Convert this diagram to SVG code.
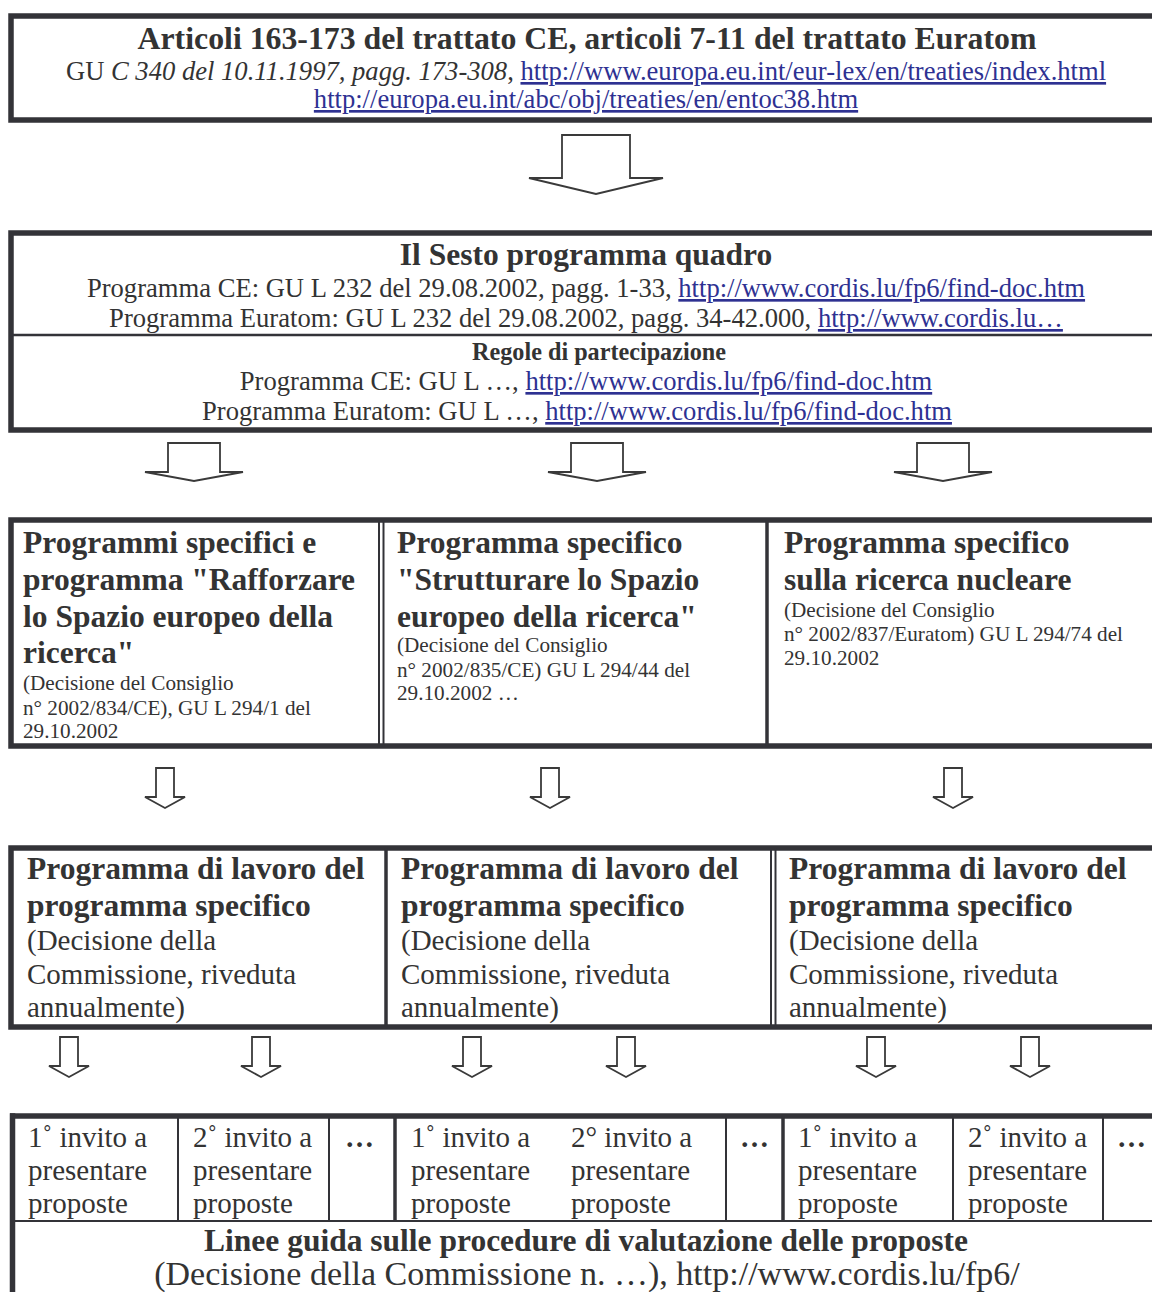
<svg xmlns="http://www.w3.org/2000/svg" xmlns:xlink="http://www.w3.org/1999/xlink" width="1152" height="1292" viewBox="0 0 1152 1292">
<style>
text{font-family:"Liberation Serif","Times New Roman",serif;fill:#333}
.b{font-weight:bold}
.t{font-size:31.8px;font-weight:bold}
.h{font-size:31.5px;font-weight:bold}
.n{font-size:26.6px}
.s{font-size:21.2px}
.m{font-size:29px}
.it{font-style:italic}
.lnk{fill:#2e3192;text-decoration:underline}
.frame{fill:none;stroke:#333338;stroke-width:5.5}
.thin{stroke:#333338;stroke-width:2}
.mid{stroke:#333338;stroke-width:3.5}
.arr{fill:#fff;stroke:#3a3a3a;stroke-width:1.8;stroke-linejoin:miter}
</style>
<defs>
<path id="bigArrow" class="arr" d="M-34,0 H34 V43 H67 L0,59 L-67,43 H-34 Z"/>
<path id="medArrow" class="arr" d="M-26,0 H26 V29 H49 L0,38 L-49,29 H-26 Z"/>
<path id="smlArrow" class="arr" d="M-9,0 H9 V29 H20 L0,40 L-20,29 H-9 Z"/>
</defs>
<rect width="1152" height="1292" fill="#fff"/>

<g id="node-treaty">
<rect class="frame" x="11" y="16" width="1200" height="104"/>
<text class="t" x="587" y="49" text-anchor="middle">Articoli 163-173 del trattato CE, articoli 7-11 del trattato Euratom</text>
<text class="n" x="586" y="80" text-anchor="middle">GU <tspan class="it">C 340 del 10.11.1997, pagg. 173-308</tspan>, <tspan class="lnk">http://www.europa.eu.int/eur-lex/en/treaties/index.html</tspan></text>
<text class="n" x="586" y="108" text-anchor="middle"><tspan class="lnk">http://europa.eu.int/abc/obj/treaties/en/entoc38.htm</tspan></text>
</g>

<g id="node-fp6">
<rect class="frame" x="11" y="233" width="1200" height="197"/>
<line class="thin" x1="11" y1="335" x2="1152" y2="335" style="stroke-width:2.5"/>
<text class="h" x="586" y="265" text-anchor="middle">Il Sesto programma quadro</text>
<text class="n" x="586" y="297" text-anchor="middle">Programma CE: GU L 232 del 29.08.2002, pagg. 1-33, <tspan class="lnk">http://www.cordis.lu/fp6/find-doc.htm</tspan></text>
<text class="n" x="586" y="327" text-anchor="middle">Programma Euratom: GU L 232 del 29.08.2002, pagg. 34-42.000, <tspan class="lnk">http://www.cordis.lu…</tspan></text>
<text class="b" x="599" y="360" text-anchor="middle" style="font-size:24.2px">Regole di partecipazione</text>
<text class="n" x="586" y="390" text-anchor="middle">Programma CE: GU L …, <tspan class="lnk">http://www.cordis.lu/fp6/find-doc.htm</tspan></text>
<text class="n" x="577" y="420" text-anchor="middle">Programma Euratom: GU L …, <tspan class="lnk">http://www.cordis.lu/fp6/find-doc.htm</tspan></text>
</g>

<g id="frame-specific">
<rect class="frame" x="11" y="520" width="1200" height="226"/>
<line class="thin" x1="379" y1="520" x2="379" y2="746"/>
<line class="thin" x1="383.5" y1="520" x2="383.5" y2="746"/>
<line class="mid" x1="767" y1="520" x2="767" y2="746"/>
</g>
<g id="node-sp-rafforzare">
<text class="h" x="23" y="553">Programmi specifici e</text>
<text class="h" x="23" y="590">programma "Rafforzare</text>
<text class="h" x="23" y="627">lo Spazio europeo della</text>
<text class="h" x="23" y="663">ricerca"</text>
<text class="s" x="23" y="690">(Decisione del Consiglio</text>
<text class="s" x="23" y="715">n° 2002/834/CE), GU L 294/1 del</text>
<text class="s" x="23" y="738">29.10.2002</text>
</g>
<g id="node-sp-strutturare">
<text class="h" x="397" y="553">Programma specifico</text>
<text class="h" x="397" y="590">"Strutturare lo Spazio</text>
<text class="h" x="397" y="627">europeo della ricerca"</text>
<text class="s" x="397" y="652">(Decisione del Consiglio</text>
<text class="s" x="397" y="677">n° 2002/835/CE) GU L 294/44 del</text>
<text class="s" x="397" y="700">29.10.2002 …</text>
</g>
<g id="node-sp-nucleare">
<text class="h" x="784" y="553">Programma specifico</text>
<text class="h" x="784" y="590">sulla ricerca nucleare</text>
<text class="s" x="784" y="617">(Decisione del Consiglio</text>
<text class="s" x="784" y="641">n° 2002/837/Euratom) GU L 294/74 del</text>
<text class="s" x="784" y="665">29.10.2002</text>
</g>

<g id="frame-workprog">
<rect class="frame" x="11" y="848" width="1200" height="179"/>
<line class="mid" x1="386" y1="848" x2="386" y2="1027"/>
<line class="thin" x1="771" y1="848" x2="771" y2="1027"/>
<line class="thin" x1="775.5" y1="848" x2="775.5" y2="1027"/>
</g>
<g id="node-wp-1">
<text class="h" x="27" y="879">Programma di lavoro del</text>
<text class="h" x="27" y="916">programma specifico</text>
<text class="m" x="27" y="950">(Decisione della</text>
<text class="m" x="27" y="984">Commissione, riveduta</text>
<text class="m" x="27" y="1017">annualmente)</text>
</g>
<g id="node-wp-2">
<text class="h" x="401" y="879">Programma di lavoro del</text>
<text class="h" x="401" y="916">programma specifico</text>
<text class="m" x="401" y="950">(Decisione della</text>
<text class="m" x="401" y="984">Commissione, riveduta</text>
<text class="m" x="401" y="1017">annualmente)</text>
</g>
<g id="node-wp-3">
<text class="h" x="789" y="879">Programma di lavoro del</text>
<text class="h" x="789" y="916">programma specifico</text>
<text class="m" x="789" y="950">(Decisione della</text>
<text class="m" x="789" y="984">Commissione, riveduta</text>
<text class="m" x="789" y="1017">annualmente)</text>
</g>

<g id="frame-calls">
<line class="frame" x1="12.5" y1="1113.3" x2="12.5" y2="1300"/>
<line class="frame" x1="10" y1="1116" x2="1160" y2="1116"/>
<line class="thin" x1="12" y1="1221" x2="1152" y2="1221"/>
<line class="thin" x1="178" y1="1116" x2="178" y2="1221"/>
<line class="thin" x1="329" y1="1116" x2="329" y2="1221"/>
<line class="mid" x1="395" y1="1116" x2="395" y2="1221"/>
<line class="thin" x1="726" y1="1116" x2="726" y2="1221"/>
<line class="mid" x1="783" y1="1116" x2="783" y2="1221"/>
<line class="thin" x1="953" y1="1116" x2="953" y2="1221"/>
<line class="thin" x1="1103" y1="1116" x2="1103" y2="1221"/>
</g>
<g id="node-call-1a">
<text class="m" x="28" y="1147">1˚ invito a</text>
<text class="m" x="28" y="1180">presentare</text>
<text class="m" x="28" y="1213">proposte</text>
</g>
<g id="node-call-1b">
<text class="m" x="193" y="1147">2˚ invito a</text>
<text class="m" x="193" y="1180">presentare</text>
<text class="m" x="193" y="1213">proposte</text>
</g>
<g id="node-call-1c"><text class="m b" x="345" y="1147">…</text></g>
<g id="node-call-2a">
<text class="m" x="411" y="1147">1˚ invito a</text>
<text class="m" x="411" y="1180">presentare</text>
<text class="m" x="411" y="1213">proposte</text>
</g>
<g id="node-call-2b">
<text class="m" x="571" y="1147">2° invito a</text>
<text class="m" x="571" y="1180">presentare</text>
<text class="m" x="571" y="1213">proposte</text>
</g>
<g id="node-call-2c"><text class="m b" x="740" y="1147">…</text></g>
<g id="node-call-3a">
<text class="m" x="798" y="1147">1˚ invito a</text>
<text class="m" x="798" y="1180">presentare</text>
<text class="m" x="798" y="1213">proposte</text>
</g>
<g id="node-call-3b">
<text class="m" x="968" y="1147">2˚ invito a</text>
<text class="m" x="968" y="1180">presentare</text>
<text class="m" x="968" y="1213">proposte</text>
</g>
<g id="node-call-3c"><text class="m b" x="1117" y="1147">…</text></g>
<g id="node-guidelines">
<text class="b" x="586" y="1251" text-anchor="middle" style="font-size:31.5px">Linee guida sulle procedure di valutazione delle proposte</text>
<text x="587" y="1285" text-anchor="middle" style="font-size:34px">(Decisione della Commissione n. …), http://www.cordis.lu/fp6/</text>
</g>

<g id="connectors">
<use xlink:href="#bigArrow" x="596" y="135"/>
<use xlink:href="#medArrow" x="194" y="443"/>
<use xlink:href="#medArrow" x="597" y="443"/>
<use xlink:href="#medArrow" x="943" y="443"/>
<use xlink:href="#smlArrow" x="165" y="768"/>
<use xlink:href="#smlArrow" x="550" y="768"/>
<use xlink:href="#smlArrow" x="953" y="768"/>
<use xlink:href="#smlArrow" x="69" y="1037"/>
<use xlink:href="#smlArrow" x="261" y="1037"/>
<use xlink:href="#smlArrow" x="472" y="1037"/>
<use xlink:href="#smlArrow" x="626" y="1037"/>
<use xlink:href="#smlArrow" x="876" y="1037"/>
<use xlink:href="#smlArrow" x="1030" y="1037"/>
</g>
</svg>
